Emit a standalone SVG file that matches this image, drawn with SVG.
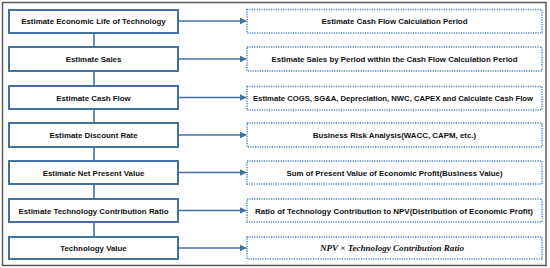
<svg xmlns="http://www.w3.org/2000/svg" width="550" height="268" viewBox="0 0 550 268">
<defs>
<style>
.frame{fill:#fff;stroke:#595959;stroke-width:1.5}
.step{fill:#fff;stroke:#41719c;stroke-width:2}
.note{fill:#fff;stroke:#4f81bd;stroke-width:1.5;stroke-dasharray:1.2 1.2}
.lbl{font-family:"Liberation Sans",Arial,sans-serif;font-weight:bold;font-size:7.9px;fill:#111;text-anchor:middle}
.math{font-family:"Liberation Serif","Times New Roman",serif;font-weight:bold;font-style:italic;font-size:8.6px;fill:#111;text-anchor:middle}
.con{stroke:#41719c;stroke-width:1.6;fill:none}
</style>
<marker id="ah" viewBox="0 0 10 10" refX="9" refY="5" markerWidth="4.2" markerHeight="4.2" orient="auto" markerUnits="strokeWidth">
<path d="M0,0 L10,5 L0,10 z" fill="#41719c"/>
</marker>
</defs>
<rect class="frame" x="2.5" y="2.5" width="543.5" height="263"/>
<g id="connectors">
<line class="con" x1="94" y1="33" x2="94" y2="47"/>
<line class="con" x1="94" y1="71" x2="94" y2="86"/>
<line class="con" x1="94" y1="109" x2="94" y2="123"/>
<line class="con" x1="94" y1="147" x2="94" y2="161"/>
<line class="con" x1="94" y1="184" x2="94" y2="199"/>
<line class="con" x1="94" y1="222" x2="94" y2="237"/>
<line class="con" x1="178" y1="21" x2="246" y2="21" marker-end="url(#ah)"/>
<line class="con" x1="178" y1="59" x2="246" y2="59" marker-end="url(#ah)"/>
<line class="con" x1="178" y1="97.5" x2="246" y2="97.5" marker-end="url(#ah)"/>
<line class="con" x1="178" y1="135" x2="246" y2="135" marker-end="url(#ah)"/>
<line class="con" x1="178" y1="172.5" x2="246" y2="172.5" marker-end="url(#ah)"/>
<line class="con" x1="178" y1="210.5" x2="246" y2="210.5" marker-end="url(#ah)"/>
<line class="con" x1="178" y1="248" x2="246" y2="248" marker-end="url(#ah)"/>
</g>
<g id="s1"><rect class="step" x="9" y="10" width="169" height="23"/><text class="lbl" x="93.5" y="24">Estimate Economic Life of Technology</text></g>
<g id="s2"><rect class="step" x="9" y="47" width="169" height="24"/><text class="lbl" x="93.5" y="62">Estimate Sales</text></g>
<g id="s3"><rect class="step" x="9" y="86" width="169" height="23"/><text class="lbl" x="93.5" y="100.5">Estimate Cash Flow</text></g>
<g id="s4"><rect class="step" x="9" y="123" width="169" height="24"/><text class="lbl" x="93.5" y="138">Estimate Discount Rate</text></g>
<g id="s5"><rect class="step" x="9" y="161" width="169" height="23"/><text class="lbl" x="93.5" y="175.5">Estimate Net Present Value</text></g>
<g id="s6"><rect class="step" x="9" y="199" width="169" height="23"/><text class="lbl" x="93.5" y="213.5">Estimate Technology Contribution Ratio</text></g>
<g id="s7"><rect class="step" x="9" y="237" width="169" height="22"/><text class="lbl" x="93.5" y="251">Technology Value</text></g>
<g id="n1"><rect class="note" x="247" y="9.5" width="295" height="23.5"/><text class="lbl" x="394.5" y="24">Estimate Cash Flow Calculation Period</text></g>
<g id="n2"><rect class="note" x="247" y="47" width="295" height="24"/><text class="lbl" x="394.5" y="62">Estimate Sales by Period within the Cash Flow Calculation Period</text></g>
<g id="n3"><rect class="note" x="247" y="86.5" width="295" height="23.5"/><text class="lbl" x="393" y="100.5" textLength="280" lengthAdjust="spacingAndGlyphs">Estimate COGS, SG&amp;A, Depreciation, NWC, CAPEX and Calculate Cash Flow</text></g>
<g id="n4"><rect class="note" x="247" y="123" width="295" height="24"/><text class="lbl" x="394.5" y="138">Business Risk Analysis(WACC, CAPM, etc.)</text></g>
<g id="n5"><rect class="note" x="247" y="161" width="295" height="23"/><text class="lbl" x="394.5" y="175.5">Sum of Present Value of Economic Profit(Business Value)</text></g>
<g id="n6"><rect class="note" x="247" y="199" width="295" height="23"/><text class="lbl" x="394" y="213.5" textLength="278" lengthAdjust="spacingAndGlyphs">Ratio of Technology Contribution to NPV(Distribution of Economic Profit)</text></g>
<g id="n7"><rect class="note" x="247" y="237" width="295" height="22"/><text class="math" x="392" y="251" textLength="144" lengthAdjust="spacingAndGlyphs">NPV × Technology Contribution Ratio</text></g>
</svg>
